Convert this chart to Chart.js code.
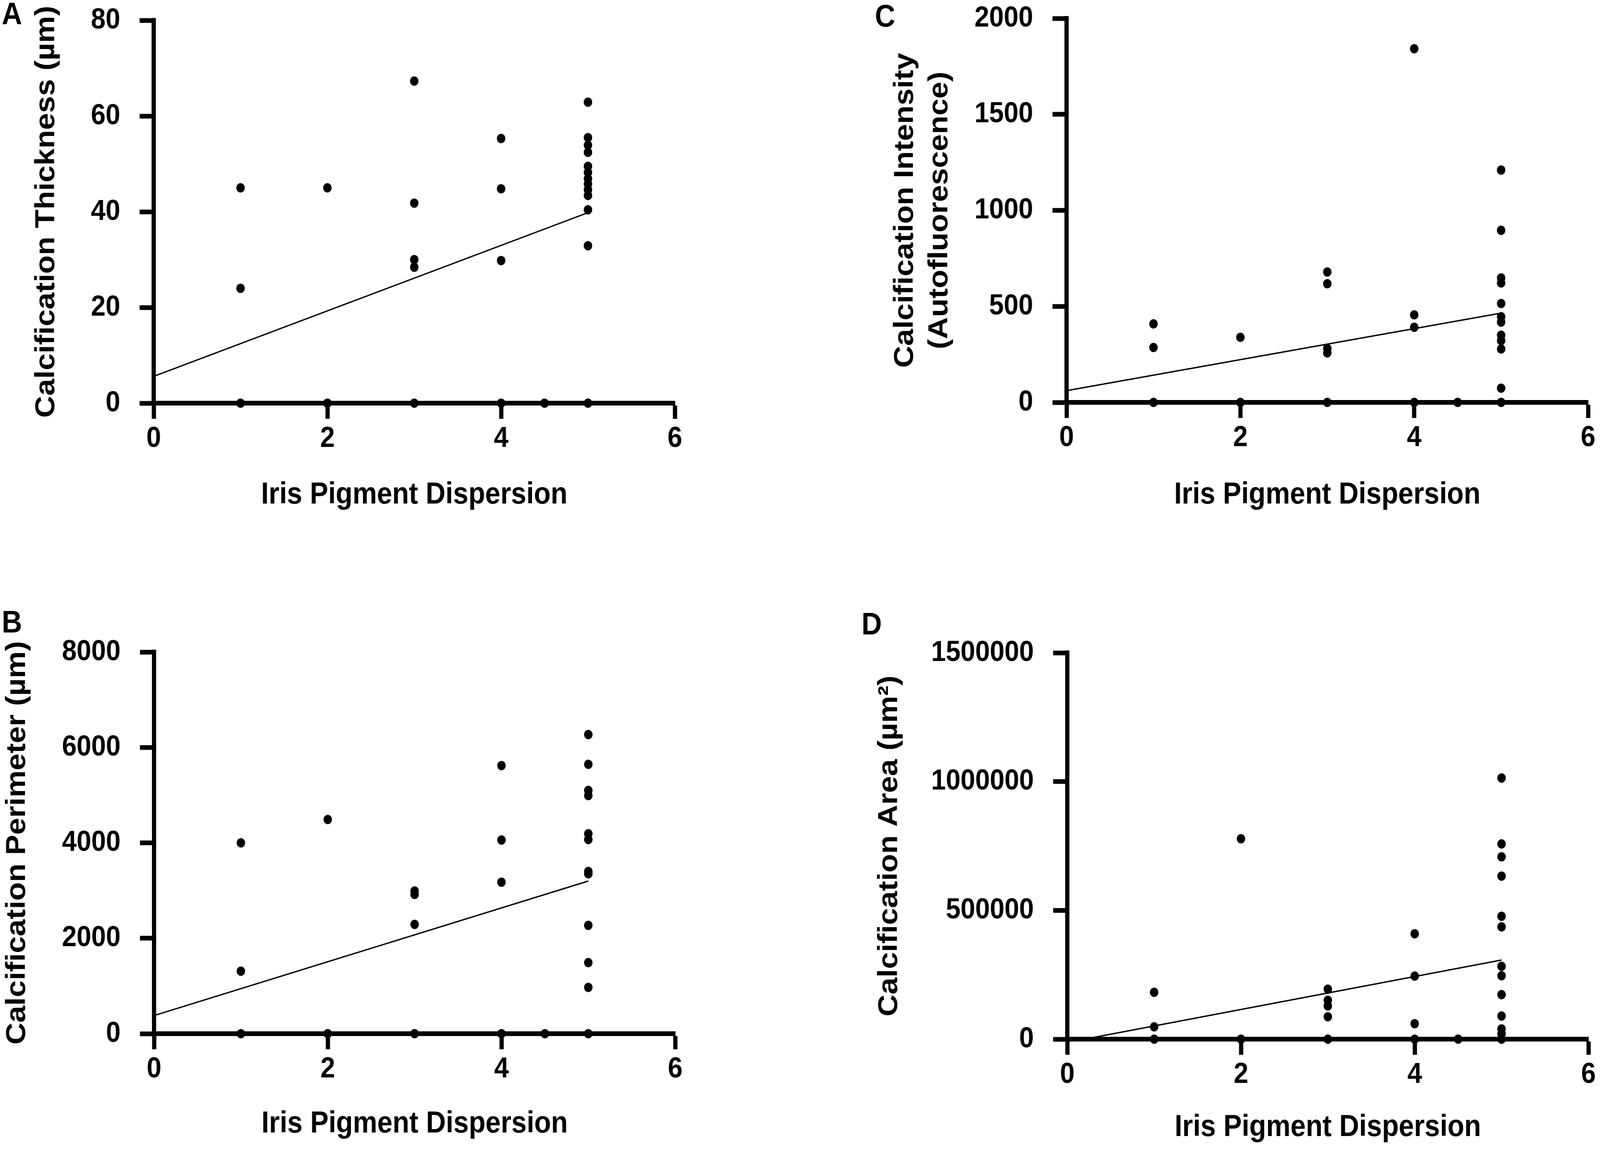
<!DOCTYPE html>
<html>
<head>
<meta charset="utf-8">
<script src="https://cdn.jsdelivr.net/npm/chart.js@4.4.0/dist/chart.umd.min.js"></script>
<style>
html, body { margin: 0; padding: 0; background: #fff; overflow: hidden; }
#page { position: absolute; left: 0; top: 0; width: 4550px; height: 2954px; transform-origin: 0 0; background: #fff; }
canvas { position: absolute; }
.tag { position: absolute; font: bold 80px "Liberation Sans", Arial, sans-serif; line-height: 1; color: #000; }
</style>
</head>
<body>
<div id="page">
<div class="tag" style="left:5px;top:-5px">A</div>
<div class="tag" style="left:5px;top:1552px">B</div>
<div class="tag" style="left:2488px;top:1px">C</div>
<div class="tag" style="left:2450px;top:1557px">D</div>

<canvas id="chartA" width="2000" height="1400" style="left:0;top:0;width:2000px;height:1400px"></canvas>
<canvas id="chartB" width="2000" height="1414" style="left:0;top:1540px;width:2000px;height:1414px"></canvas>
<canvas id="chartC" width="2150" height="1400" style="left:2400px;top:0;width:2150px;height:1400px"></canvas>
<canvas id="chartD" width="2150" height="1414" style="left:2400px;top:1540px;width:2150px;height:1414px"></canvas>
</div>

<script>
// the window may be narrower than the figure, so fit the whole page into it
const page = document.getElementById('page')
page.style.transform = 'scale(' + (window.innerWidth / 4550) + ',' + (window.innerHeight / 2954) + ')'

// A - calcification thickness (um)
const thickX = [1, 1, 1, 2, 2, 3, 3, 3, 3, 3, 4, 4, 4, 4, 4.5,
                5, 5, 5, 5, 5, 5, 5, 5, 5, 5, 5, 5, 5]
const thickY = [45, 24, 0, 45, 0, 67.3, 41.8, 30, 28.4, 0, 55.3, 44.8, 29.8, 0, 0,
                62.9, 55.5, 53.9, 52.4, 49.5, 48.2, 46.9, 45.8, 44.6, 43.4, 40.4, 32.9, 0]
const thickFitX = [0, 5]
const thickFitY = [5.6, 39.8]

// B - calcification perimeter (um)
const perimX = [1, 1, 1, 2, 2, 3, 3, 3, 3, 4, 4, 4, 4, 4.5,
                5, 5, 5, 5, 5, 5, 5, 5, 5, 5, 5, 5]
const perimY = [4000, 1310, 0, 4490, 0, 2990, 2920, 2290, 0, 5620, 4060, 3175, 0, 0,
                6270, 5645, 5100, 4990, 4190, 4070, 3400, 3350, 2270, 1490, 970, 0]
const perimFitX = [0, 5]
const perimFitY = [380, 3200]

// C - calcification intensity (autofluorescence)
const intenX = [1, 1, 1, 2, 2, 3, 3, 3, 3, 3, 4, 4, 4, 4, 4.5,
                5, 5, 5, 5, 5, 5, 5, 5, 5, 5, 5, 5]
const intenY = [409, 286, 0, 339, 0, 679, 618, 281, 258, 0, 1842, 456, 391, 0, 0,
                1210, 896, 648, 622, 515, 446, 418, 350, 322, 278, 74, 0]
const intenFitX = [0, 5]
const intenFitY = [61, 465]

// D - calcification area (um2)
const areaX = [1, 1, 1, 2, 2, 3, 3, 3, 3, 3, 4, 4, 4, 4, 4.5,
               5, 5, 5, 5, 5, 5, 5, 5, 5, 5, 5, 5, 5]
const areaY = [182000, 47600, 0, 778000, 0, 194000, 151000, 129000, 87000, 0, 409000, 245000, 60000, 0, 0,
               1014000, 758000, 708000, 633000, 477000, 436000, 283000, 246000, 173000, 90000, 40000, 20000, 0]
const areaFitX = [0.2, 5]
const areaFitY = [0, 307000]

const xTicks = [0, 2, 4, 6]
const xTitle = 'Iris Pigment Dispersion'

const tickFont = {family: '"Liberation Sans", Arial, sans-serif', weight: 'bold', size: 75}
const titleFont = {family: '"Liberation Sans", Arial, sans-serif', weight: 'bold', size: 78, lineHeight: 1.2}

function pairs(xs, ys) {
    return xs.map((x, i) => ({x: x, y: ys[i]}))
}

function panel(id, xs, ys, fx, fy, yMax, yStep, yTitle, g) {
    new Chart(document.getElementById(id), {
        type: 'scatter',
        data: {
            datasets: [{
                data: pairs(xs, ys),
                pointRadius: 12,
                pointHoverRadius: 12,
                backgroundColor: '#000',
                borderWidth: 0,
                clip: false
            }, {
                type: 'line',
                data: pairs(fx, fy),
                borderColor: '#000',
                borderWidth: 3.5,
                pointRadius: 0,
                fill: false,
                tension: 0,
                clip: false
            }]
        },
        options: {
            responsive: false,
            animation: false,
            devicePixelRatio: 1,
            layout: {padding: {left: 0, top: g.top, right: g.right, bottom: 0}},
            plugins: {legend: {display: false}, tooltip: {enabled: false}},
            scales: {
                x: {
                    type: 'linear', min: 0, max: 6,
                    afterFit: s => { s.height = g.xh; s.paddingLeft = 0; s.paddingRight = 0 },
                    afterBuildTicks: s => { s.ticks = xTicks.map(v => ({value: v})) },
                    border: {display: true, color: '#000', width: 12},
                    grid: {drawOnChartArea: false, drawTicks: true, tickLength: 40, tickWidth: 12, tickColor: '#000'},
                    ticks: {color: '#000', font: tickFont, padding: 6, maxRotation: 0, autoSkip: false},
                    title: {display: true, text: xTitle, color: '#000', font: titleFont, padding: {top: 0, bottom: g.xtp}}
                },
                y: {
                    type: 'linear', min: 0, max: yMax,
                    // tick padding would otherwise push the plot area down
                    afterFit: s => { s.width = g.yw; s.paddingTop = 0; s.paddingBottom = 0 },
                    border: {display: true, color: '#000', width: 12},
                    grid: {drawOnChartArea: false, drawTicks: true, tickLength: 40, tickWidth: 12, tickColor: '#000'},
                    ticks: {stepSize: yStep, color: '#000', font: tickFont, padding: 55, autoSkip: false,
                            callback: v => String(v)},
                    title: {display: true, text: yTitle, color: '#000',
                            font: Object.assign({}, titleFont, {lineHeight: g.ylh || 1.2}),
                            padding: {top: g.ytp, bottom: 0}}
                }
            }
        }
    })
}

panel('chartA', thickX, thickY, thickFitX, thickFitY, 80, 20, 'Calcification Thickness (µm)',
      {top: 52, right: 81, yw: 437, xh: 368, ytp: 86, xtp: 86})
panel('chartB', perimX, perimY, perimFitX, perimFitY, 8000, 2000, 'Calcification Perimeter (µm)',
      {top: 129, right: 80, yw: 438, xh: 308, ytp: 3, xtp: 30})
panel('chartC', intenX, intenY, intenFitX, intenFitY, 2000, 500,
      ['Calcification Intensity', '(Autofluorescence)'],
      {top: 47, right: 34, yw: 633, xh: 370, ytp: 126, xtp: 86, ylh: 1.256})
panel('chartD', areaX, areaY, areaFitX, areaFitY, 1500000, 500000, 'Calcification Area (µm²)',
      {top: 131, right: 33, yw: 635, xh: 294, ytp: 83, xtp: 21})
</script>
</body>
</html>
